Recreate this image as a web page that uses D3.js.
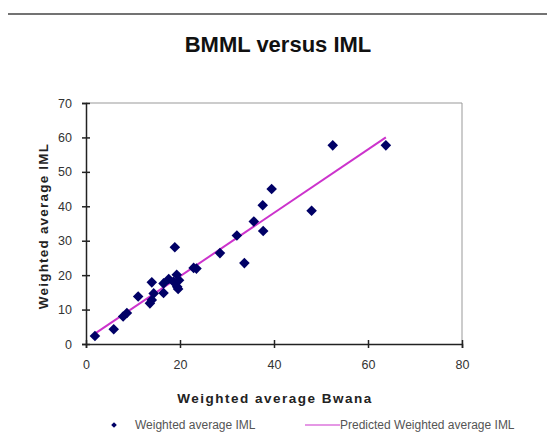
<!DOCTYPE html>
<html><head><meta charset="utf-8">
<script src="https://cdn.jsdelivr.net/npm/d3@7"></script>
<style>body{margin:0;background:#fff;}svg{display:block;}</style>
</head><body><svg id="c" width="547" height="440"></svg>
<script>
const bwana = [1.9,5.9,7.9,8.7,11.1,13.6,14.0,14.0,14.4,16.5,16.5,17.6,18.6,18.9,19.3,19.4,19.6,19.8,22.9,23.5,28.5,32.1,33.7,35.7,37.7,37.6,39.5,48.0,52.5,63.8];
const iml   = [2.3,4.3,8.0,9.0,13.8,11.8,12.8,17.9,14.7,14.8,17.6,18.9,18.1,28.1,20.1,16.6,16.0,18.5,22.1,21.9,26.4,31.5,23.5,35.6,32.8,40.3,45.0,38.7,57.7,57.7];
const predX = [1.9, 63.8];
const predY = [3.0, 60.0];
const xTicks = [0,20,40,60,80];
const yTicks = [0,10,20,30,40,50,60,70];
const title = "BMML versus IML";
const xTitle = "Weighted average Bwana";
const yTitle = "Weighted average IML";
const legendLabels = ["Weighted average IML","Predicted Weighted average IML"];

const svg = d3.select("#c");
const L=86, R=462, T=103, B=344;
const x = d3.scaleLinear().domain([0,80]).range([L,R]);
const y = d3.scaleLinear().domain([0,70]).range([B,T]);
const font = "Arial, Liberation Sans, sans-serif";

svg.append("line").attr("x1",8).attr("x2",547).attr("y1",14).attr("y2",14).attr("stroke","#444").attr("stroke-width",1.5);
svg.append("text").attr("x",278).attr("y",52).attr("text-anchor","middle").attr("font-family",font).attr("font-weight","bold").attr("font-size",22).attr("fill","#111").text(title);

svg.append("path").attr("d",`M${L},${T}H${R}V${B}`).attr("fill","none").attr("stroke","#999").attr("stroke-width",1);

const yAx = svg.append("g").attr("transform",`translate(${L},0)`).call(d3.axisLeft(y).tickValues(yTicks).tickSize(4).tickPadding(10));
const xAx = svg.append("g").attr("transform",`translate(0,${B})`).call(d3.axisBottom(x).tickValues(xTicks).tickSize(4).tickPadding(12));
[yAx,xAx].forEach(g=>{
  g.select(".domain").attr("stroke","#222").attr("stroke-width",1.5);
  g.selectAll(".tick line").attr("stroke","#222").attr("stroke-width",1.5);
  g.selectAll("text").attr("font-family",font).attr("font-size",12.5).attr("fill","#333");
});
yAx.selectAll(".tick line").attr("x1",4);
xAx.selectAll(".tick line").attr("y1",-4);

svg.append("text").attr("transform",`translate(48,226) rotate(-90)`).attr("text-anchor","middle").attr("font-family",font).attr("font-weight","bold").attr("font-size",13.5).attr("letter-spacing",1.2).attr("fill","#222").text(yTitle);
svg.append("text").attr("x",275).attr("y",403).attr("text-anchor","middle").attr("font-family",font).attr("font-weight","bold").attr("font-size",13.5).attr("letter-spacing",1.5).attr("fill","#222").text(xTitle);

svg.append("path").datum(predX.map((v,i)=>[v,predY[i]])).attr("d",d3.line().x(d=>x(d[0])).y(d=>y(d[1]))).attr("fill","none").attr("stroke","#cc33cc").attr("stroke-width",2);

const sym = d3.symbol().type(d3.symbolSquare).size(56);
svg.append("g").selectAll("path").data(bwana.map((v,i)=>[v,iml[i]])).join("path")
  .attr("d",sym).attr("transform",d=>`translate(${x(d[0])},${y(d[1])}) rotate(45)`).attr("fill","#000066");

svg.append("path").attr("d",d3.symbol().type(d3.symbolSquare).size(16)).attr("transform","translate(114,425) rotate(45)").attr("fill","#000066");
svg.append("text").attr("x",135).attr("y",429).attr("font-family",font).attr("font-size",12).attr("fill","#555").text(legendLabels[0]);
svg.append("line").attr("x1",305).attr("x2",340).attr("y1",425).attr("y2",425).attr("stroke","#cc33cc").attr("stroke-width",1.2);
svg.append("text").attr("x",340).attr("y",429).attr("font-family",font).attr("font-size",12).attr("fill","#555").text(legendLabels[1]);
</script></body></html>
